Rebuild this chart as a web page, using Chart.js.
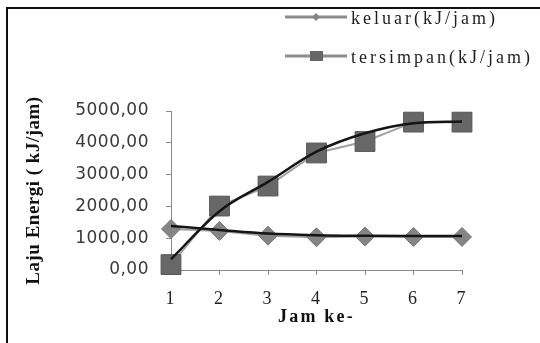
<!DOCTYPE html>
<html>
<head>
<meta charset="utf-8">
<title>Laju Energi</title>
<script src="https://cdn.jsdelivr.net/npm/chart.js@4.4.0/dist/chart.umd.min.js"></script>
<style>
  body { margin: 0; background: #fff; }
  #wrap { position: relative; width: 540px; height: 343px; overflow: hidden; background: #fff; }
  #frame { position: absolute; left: 6px; top: 7px; width: 600px; height: 400px; border-left: 2px solid #111; border-top: 2px solid #111; }
  canvas { position: absolute; left: 0; top: 0; }
</style>
</head>
<body>
<div id="wrap">
  <div id="frame"></div>
  <canvas id="energyChart" width="540" height="343"></canvas>
</div>
<script>
// values
const jamKe = ['1', '2', '3', '4', '5', '6', '7'];
const keluar = [1290, 1230, 1080, 1030, 1050, 1040, 1040];
const tersimpan = [170, 2010, 2640, 3680, 4040, 4650, 4650];
// black smoothed trend lines drawn over the markers
const keluarTrend = [1385, 1260, 1145, 1095, 1075, 1070, 1070];
const tersimpanTrend = [340, 1850, 2770, 3720, 4300, 4615, 4670];
const yTickLabels = ['0,00', '1000,00', '2000,00', '3000,00', '4000,00', '5000,00'];

// legend icon: gray line with a small marker in the middle
function legendIcon(shape) {
    var c = document.createElement('canvas');
    c.width = 62;
    c.height = 24;
    var g = c.getContext('2d');
    g.strokeStyle = '#8c8c8c';
    g.lineWidth = 3;
    g.beginPath();
    g.moveTo(0, 10);
    g.lineTo(62, 10);
    g.stroke();
    if (shape === 'rect') {
        g.fillStyle = '#666';
        g.fillRect(25, 5, 13, 10);
    } else {
        g.fillStyle = '#858585';
        g.beginPath();
        g.moveTo(27, 10);
        g.lineTo(31, 6);
        g.lineTo(35, 10);
        g.lineTo(31, 14);
        g.closePath();
        g.fill();
    }
    return c;
}
const legendIcons = [legendIcon('rectRot'), legendIcon('rect')];

// canvas letter spacing, the source picture is stretched sideways
function withSpacing(obj, names, spacing) {
    if (!obj || obj._spaced) return;
    names.forEach(function (name) {
        var orig = obj[name];
        obj[name] = function () {
            var ctx = this.ctx;
            ctx.save();
            ctx.letterSpacing = spacing;
            var r = orig.apply(this, arguments);
            ctx.restore();
            return r;
        };
    });
    obj._spaced = true;
}

const layoutTweaks = {
    id: 'layoutTweaks',
    afterLayout(chart) {
        // move the legend to the top right corner, above the plot
        var lg = chart.legend;
        var h = lg.height;
        lg.left = 269;
        lg.top = -11;
        lg.right = 545;
        lg.bottom = lg.top + h;
        lg.width = lg.right - lg.left;
        withSpacing(lg, ['draw'], '3px');
        withSpacing(chart.scales.x, ['drawLabels', 'drawTitle'], '2.2px');
        withSpacing(chart.scales.y, ['drawLabels', 'drawTitle'], '0.5px');
    }
};

var ctx = document.getElementById('energyChart').getContext('2d');
var energyChart = new Chart(ctx, {
    type: 'line',
    data: {
        labels: jamKe,
        datasets: [{
            label: 'keluar(kJ/jam)',
            data: keluar,
            borderColor: '#a0a0a0',
            borderWidth: 2,
            pointStyle: 'rectRot',
            pointRadius: 9.5,
            pointBackgroundColor: '#858585',
            pointBorderColor: '#777',
            pointBorderWidth: 1,
            tension: 0,
            order: 1,
            clip: false
        }, {
            label: 'tersimpan(kJ/jam)',
            data: tersimpan,
            borderColor: '#a0a0a0',
            borderWidth: 2,
            pointStyle: 'rect',
            pointRadius: 14,
            pointBackgroundColor: '#676767',
            pointBorderColor: '#575757',
            pointBorderWidth: 1,
            tension: 0,
            order: 1,
            clip: false
        }, {
            label: 'trend keluar',
            data: keluarTrend,
            borderColor: '#151515',
            borderWidth: 2.5,
            pointRadius: 0,
            cubicInterpolationMode: 'monotone',
            order: 0,
            clip: false
        }, {
            label: 'trend tersimpan',
            data: tersimpanTrend,
            borderColor: '#151515',
            borderWidth: 2.5,
            pointRadius: 0,
            cubicInterpolationMode: 'monotone',
            order: 0,
            clip: false
        }]
    },
    options: {
        responsive: false,
        animation: false,
        events: [],
        layout: { padding: { left: 0, top: 111, right: 78, bottom: 0 } },
        plugins: {
            tooltip: { enabled: false },
            legend: {
                position: 'chartArea',
                align: 'start',
                labels: {
                    usePointStyle: true,
                    pointStyleWidth: 52,
                    padding: 21,
                    color: '#1e1e1e',
                    font: { family: 'Liberation Serif', size: 18 },
                    generateLabels: function (chart) {
                        var items = Chart.defaults.plugins.legend.labels.generateLabels(chart);
                        return items
                            .filter(function (it) { return it.datasetIndex < 2; })
                            .map(function (it) {
                                it.pointStyle = legendIcons[it.datasetIndex];
                                return it;
                            });
                    }
                }
            }
        },
        scales: {
            x: {
                offset: false,
                ticks: {
                    font: { family: 'Liberation Serif', size: 18 },
                    color: '#222',
                    padding: 13,
                    maxRotation: 0,
                    autoSkip: false
                },
                grid: { drawOnChartArea: false, tickLength: 5, color: '#8a8a8a' },
                border: { color: '#8a8a8a', width: 1 },
                title: {
                    display: true,
                    text: 'Jam ke-',
                    color: '#111',
                    font: { family: 'Liberation Serif', size: 18, weight: 'bold' },
                    padding: { top: 0, bottom: 15 }
                },
                afterFit: function (s) { s.height = 73; }
            },
            y: {
                min: 0,
                max: 5000,
                ticks: {
                    stepSize: 1000,
                    callback: function (v, i) { return yTickLabels[i]; },
                    font: { family: 'DejaVu Sans', size: 17 },
                    color: '#3a3a3a',
                    padding: 17
                },
                grid: { drawOnChartArea: false, tickLength: 5, color: '#8a8a8a' },
                border: { color: '#8a8a8a', width: 1 },
                title: {
                    display: true,
                    text: 'Laju Energi ( kJ/jam)',
                    color: '#111',
                    font: { family: 'Liberation Serif', size: 19, weight: 'bold' },
                    padding: { top: 23, bottom: 0 }
                },
                afterFit: function (s) { s.width = 171; }
            }
        }
    },
    plugins: [layoutTweaks]
});
</script>
</body>
</html>
